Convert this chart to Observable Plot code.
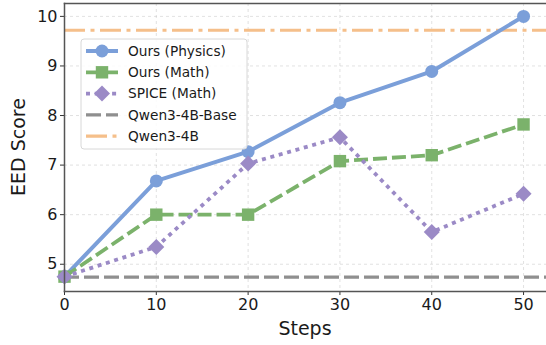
<!DOCTYPE html>
<html><head><meta charset="utf-8">
<script src="https://cdn.jsdelivr.net/npm/d3@7"></script>
<script src="https://cdn.jsdelivr.net/npm/@observablehq/plot@0.6"></script>
<style>
html,body{margin:0;padding:0;background:#fff;}
svg{display:block;}
</style>
</head><body>
<div id="chart"></div>
<script>
const steps = [0, 10, 20, 30, 40, 50];
const oursPhysics = [4.75, 6.68, 7.27, 8.26, 8.89, 10.0];
const oursMath = [4.75, 6.0, 6.0, 7.08, 7.2, 7.82];
const spiceMath = [4.75, 5.35, 7.03, 7.56, 5.65, 6.42];
const baseScore = 4.74;
const qwenScore = 9.72;
const seriesNames = ["Ours (Physics)", "Ours (Math)", "SPICE (Math)", "Qwen3-4B-Base", "Qwen3-4B"];
const xTicks = [0, 10, 20, 30, 40, 50];
const yTicks = [5, 6, 7, 8, 9, 10];

const colors = {
  "Ours (Physics)": "#7b9fd9",
  "Ours (Math)": "#7bb26b",
  "SPICE (Math)": "#9b8ac6",
  "Qwen3-4B-Base": "#8f8f8f",
  "Qwen3-4B": "#f5bf8a"
};
const styles = {
  "Ours (Physics)": {dash: null, width: 4, symbol: "circle", r: 6.5},
  "Ours (Math)": {dash: "14,5", width: 3.8, symbol: "square", r: 7},
  "SPICE (Math)": {dash: "4,4.7", width: 3.8, symbol: "diamond2", r: 7.2},
  "Qwen3-4B-Base": {dash: "15,5", width: 3.2, symbol: null},
  "Qwen3-4B": {dash: "21,5.5,4,5.5", width: 3.2, symbol: null}
};

const rows = (name, vals) => steps.map((s, i) => ({series: name, step: s, value: vals[i]}));
const lineSeries = [
  rows(seriesNames[0], oursPhysics),
  rows(seriesNames[1], oursMath),
  rows(seriesNames[2], spiceMath)
];

const marks = [
  Plot.gridX(xTicks, {stroke: "#bbb", strokeOpacity: 0.55, strokeDasharray: "3,3", strokeWidth: 0.8}),
  Plot.gridY(yTicks, {stroke: "#bbb", strokeOpacity: 0.55, strokeDasharray: "3,3", strokeWidth: 0.8}),
  Plot.ruleY([baseScore], {stroke: colors["Qwen3-4B-Base"], strokeWidth: styles["Qwen3-4B-Base"].width, strokeDasharray: styles["Qwen3-4B-Base"].dash}),
  Plot.ruleY([qwenScore], {stroke: colors["Qwen3-4B"], strokeWidth: styles["Qwen3-4B"].width, strokeDasharray: styles["Qwen3-4B"].dash})
];
for (const data of lineSeries) {
  const name = data[0].series;
  const st = styles[name];
  marks.push(Plot.line(data, {x: "step", y: "value", stroke: colors[name], strokeWidth: st.width, strokeDasharray: st.dash, strokeLinecap: "butt"}));
  marks.push(Plot.dot(data, {x: "step", y: "value", fill: colors[name], stroke: "none", symbol: st.symbol, r: st.r}));
}
marks.push(
  Plot.axisX(xTicks, {tickSize: 4, tickPadding: 3, fontSize: 16, stroke: "#333", fill: "#1a1a1a", tickFormat: d => String(d)}),
  Plot.axisY(yTicks, {tickSize: 4, tickPadding: 3, fontSize: 16, stroke: "#333", fill: "#1a1a1a", tickFormat: d => String(d)}),
  Plot.frame({anchor: "left", stroke: "#555", strokeWidth: 1.5}),
  Plot.frame({anchor: "bottom", stroke: "#555", strokeWidth: 1.5}),
  Plot.frame({anchor: "top", stroke: "#555", strokeWidth: 1.5})
);

const chart = Plot.plot({
  width: 546,
  height: 345,
  marginLeft: 64,
  marginRight: 0,
  marginTop: 3,
  marginBottom: 54,
  style: {fontFamily: "DejaVu Sans, sans-serif", fontSize: "16px", background: "#fff", overflow: "visible"},
  x: {domain: [0, 52.5], label: null},
  y: {domain: [4.45, 10.26], label: null},
  marks
});

const svg = d3.select(chart);
// axis titles
svg.append("text").attr("x", 305).attr("y", 335).attr("text-anchor", "middle")
  .attr("font-size", 19).attr("fill", "#1a1a1a").attr("font-family", "DejaVu Sans").text("Steps");
svg.append("text").attr("transform", "translate(25,147) rotate(-90)").attr("text-anchor", "middle")
  .attr("font-size", 19).attr("fill", "#1a1a1a").attr("font-family", "DejaVu Sans").text("EED Score");

// legend
const lg = svg.append("g").attr("font-family", "DejaVu Sans").attr("font-size", 13.7).attr("text-anchor", "start");
lg.append("rect").attr("x", 81).attr("y", 39).attr("width", 166).attr("height", 110).attr("rx", 3)
  .attr("fill", "#fff").attr("fill-opacity", 0.85).attr("stroke", "#d8d8d8").attr("stroke-width", 1);
const sym = {circle: d3.symbolCircle, square: d3.symbolSquare, diamond2: d3.symbolDiamond2};
seriesNames.forEach((name, i) => {
  const cy = 51 + i * 21.3;
  const st = styles[name];
  lg.append("line").attr("x1", 86).attr("x2", 118).attr("y1", cy).attr("y2", cy)
    .attr("stroke", colors[name]).attr("stroke-width", st.width).attr("stroke-dasharray", st.dash);
  if (st.symbol) {
    lg.append("path").attr("transform", `translate(102,${cy})`)
      .attr("d", d3.symbol(sym[st.symbol], Math.PI * st.r * st.r)())
      .attr("fill", colors[name]);
  }
  lg.append("text").attr("x", 128).attr("y", cy).attr("dy", "0.35em").attr("fill", "#1a1a1a").text(name);
});

document.getElementById("chart").appendChild(chart);
</script>
</body></html>
